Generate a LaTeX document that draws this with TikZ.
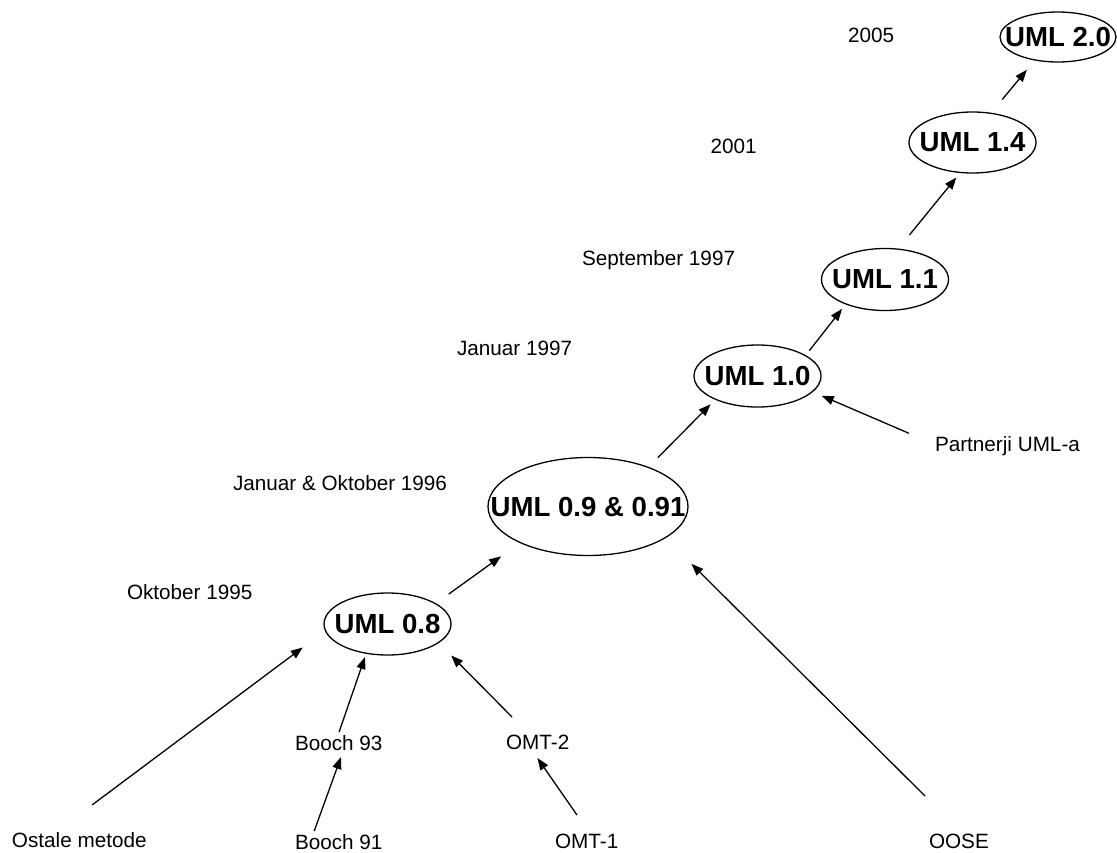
\documentclass[tikz,border=0pt]{standalone}
\usepackage{fontspec}
\setmainfont{Liberation Sans}
\usetikzlibrary{shapes.geometric,arrows.meta}
\begin{document}
\begin{tikzpicture}[x=1pt,y=-1pt,
  version/.style={ellipse, draw, line width=1.3pt, inner sep=0pt, outer sep=0pt,
    font=\fontsize{27.6}{32}\selectfont\bfseries},
  plain/.style={anchor=west, inner sep=0pt, outer sep=0pt,
    text height=14.8pt, text depth=0pt, font=\fontsize{20.7}{24}\selectfont},
  flow/.style={line width=1.3pt, -{Triangle[length=12pt,width=9pt]}},
]
\useasboundingbox (0,0) rectangle (1117,852);

% UML versions
\node[version, minimum width=127pt, minimum height=62pt] (u08) at (387.5,624) {\makebox[0pt]{UML 0.8}};
\node[version, minimum width=200pt, minimum height=98pt] (u09) at (588,506.5) {\makebox[0pt]{UML 0.9 \& 0.91}};
\node[version, minimum width=127pt, minimum height=62pt] (u10) at (757.5,376) {\makebox[0pt]{UML 1.0}};
\node[version, minimum width=127pt, minimum height=62pt] (u11) at (885,279.5) {\makebox[0pt]{UML 1.1}};
\node[version, minimum width=127pt, minimum height=61pt] (u14) at (972.5,142.5) {\makebox[0pt]{UML 1.4}};
\node[version, minimum width=116pt, minimum height=50pt] (u20) at (1058,37) {\makebox[0pt]{UML 2.0}};

% dates
\node[plain] (d05) at (848,35) {2005};
\node[plain] (d01) at (710.5,146) {2001};
\node[plain] (d97s) at (582,258.5) {September 1997};
\node[plain] (d97j) at (457,348) {Januar 1997};
\node[plain] (d96) at (233,483) {Januar \& Oktober 1996};
\node[plain] (d95) at (127,592) {Oktober 1995};

% contributing methods
\node[plain] (partner) at (935,444.5) {Partnerji UML-a};
\node[plain] (b93) at (295,743) {Booch 93};
\node[plain] (omt2) at (506,742) {OMT-2};
\node[plain] (ostale) at (12,840) {Ostale metode};
\node[plain] (b91) at (295,842) {Booch 91};
\node[plain] (omt1) at (555,841) {OMT-1};
\node[plain] (oose) at (929,841) {OOSE};

% influences
\draw[flow, shorten <=46.4pt, shorten >=28.3pt] (ostale.163.9) -- (u08.186.6);
\draw[flow, shorten <=3.8pt, shorten >=4pt] (b93.97.3) -- (u08.234);
\draw[flow, shorten <=24.6pt, shorten >=18.2pt] (omt2.138.9) -- (u08.340.8);
\draw[flow, shorten <=3.8pt, shorten >=7pt] (b91.164.1) -- (b93.302.4);
\draw[flow, shorten <=22.6pt, shorten >=10.5pt] (omt1.66.6) -- (omt2.230);
\draw[flow, shorten <=53.2pt, shorten >=37pt] (oose.62.8) -- (u09.338.4);
\draw[flow, shorten <=16.4pt, shorten >=23.5pt] (u08.23.4) -- (u09.208.7);
\draw[flow, shorten <=13.6pt, shorten >=7.1pt] (u09.33.7) -- (u10.209.6);
\draw[flow, shorten <=28.4pt, shorten >=10.3pt] (partner.west) -- (u10.344.3);
\draw[flow, shorten <=6.3pt, shorten >=6.3pt] (u10.23.9) -- (u11.212.6);
\draw[flow, shorten <=18.3pt, shorten >=6.5pt] (u11.67.9) -- (u14.248.4);
\draw[flow, shorten <=18pt, shorten >=12.8pt] (u14.58.7) -- (u20.225.8);
\end{tikzpicture}
\end{document}
